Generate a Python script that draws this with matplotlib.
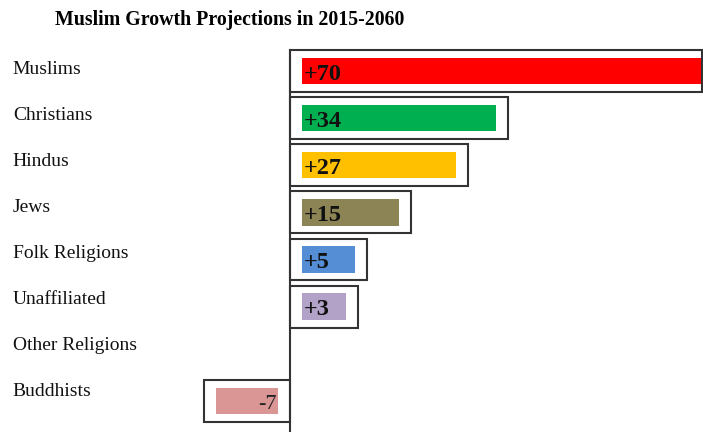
import numpy as np
import matplotlib.pyplot as plt

# data
religions = ['Muslims', 'Christians', 'Hindus', 'Jews', 'Folk Religions',
             'Unaffiliated', 'Other Religions', 'Buddhists']
growth = [70, 34, 27, 15, 5, 3, 0, -7]
labels = ['+70', '+34', '+27', '+15', '+5', '+3', '', '-7']
colors = ['#FF0000', '#00B050', '#FFC000', '#8C8455', '#558ED5',
          '#B3A2C7', '#FFFFFF', '#D99694']

plt.rcParams['font.family'] = ['Liberation Serif', 'DejaVu Serif']

fig = plt.figure(figsize=(7.03, 4.32), dpi=100)
ax = fig.add_axes([200 / 703, 0, 503 / 703, (432 - 45) / 432])

xmax = 72.5
pad = 2.1
for i, v in enumerate(growth):
    if v == 0:
        continue
    sgn = np.sign(v)
    # small bars get a little extra room for their label
    inner = abs(v) + 5.5 * max(0, 1 - abs(v) / 24)
    box = min(inner + pad + 2.1, xmax - 0.12)
    # outer white box
    ax.barh(i, sgn * box, height=0.89, color='white', edgecolor='#333333',
            linewidth=1.5, zorder=1)
    # coloured bar
    ax.barh(i, sgn * inner, left=sgn * pad, height=0.56, color=colors[i],
            edgecolor='none', zorder=2)
    if v > 0:
        ax.text(pad + 0.4, i + 0.07, labels[i], ha='left', va='center',
                fontsize=17.5, fontweight='bold', color='#111111', zorder=3)
    else:
        ax.text(-pad - 0.3, i + 0.07, labels[i], ha='right', va='center',
                fontsize=16, color='#222222', zorder=3)

ax.plot([0, 0], [-0.45, 7.7], color='#333333', linewidth=1.5, zorder=4)

for i, name in enumerate(religions):
    ax.text(-0.372, i * 0.975 - 0.03, name, transform=ax.get_yaxis_transform(),
            ha='left', va='center', fontsize=14, color='#111111')

ax.set_xlim(-15.8, xmax)
ax.set_ylim(7.66, -0.55)
ax.axis('off')

fig.text(230 / 703, 1 - 20 / 432, 'Muslim Growth Projections in 2015-2060',
         ha='center', va='center', fontsize=14.3, fontweight='bold')

fig.savefig('out.png', dpi=100)
